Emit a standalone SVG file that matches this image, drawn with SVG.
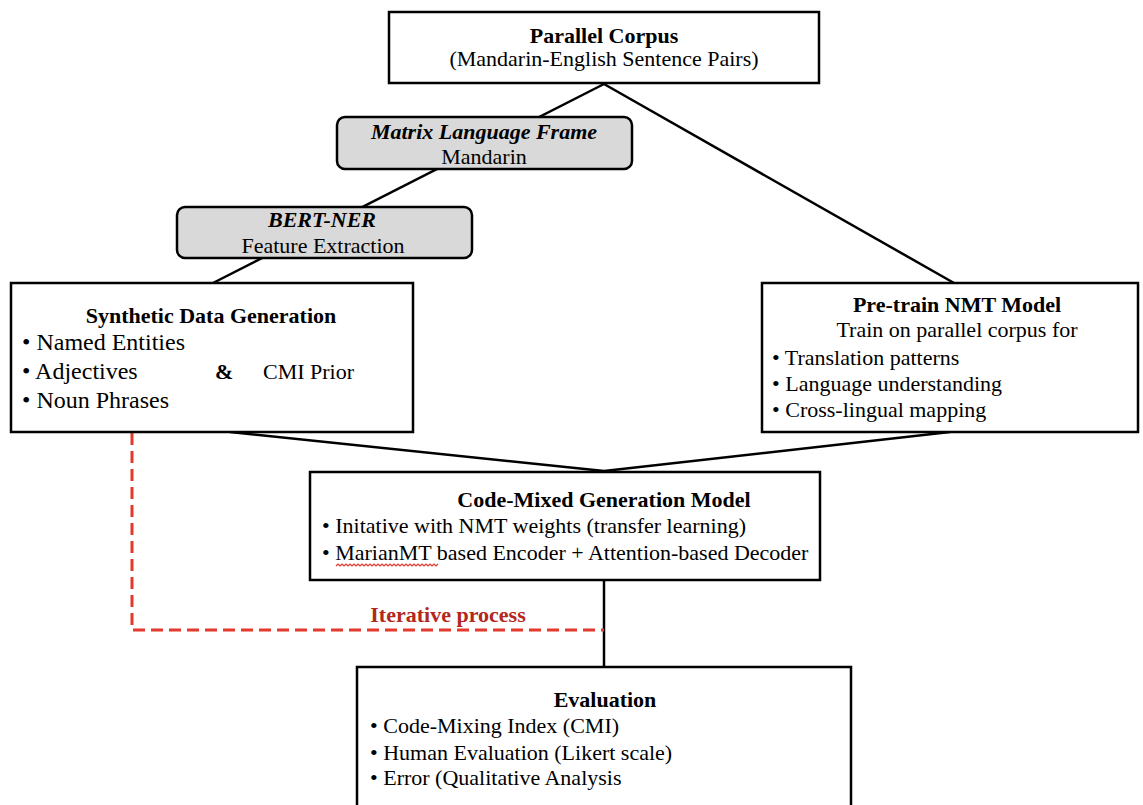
<svg xmlns="http://www.w3.org/2000/svg" width="1143" height="805" viewBox="0 0 1143 805">
  <style>
    .box { fill: #ffffff; stroke: #000000; stroke-width: 2.5; }
    .tag { fill: #d9d9d9; stroke: #000000; stroke-width: 2.5; }
    .link { stroke: #000000; stroke-width: 2.5; fill: none; }
    .loop { stroke: #e5392b; stroke-width: 3; fill: none; stroke-dasharray: 12 6; }
    text { font-family: "Liberation Serif", "Times New Roman", serif; font-size: 22px; fill: #000000; }
    .title { font-weight: bold; text-anchor: middle; }
    .mid { text-anchor: middle; }
    .bi { font-weight: bold; font-style: italic; text-anchor: middle; }
    .red { fill: #b3271c; font-weight: bold; text-anchor: middle; }
    .big { font-size: 24px; }
  </style>

  <!-- connectors -->
  <g id="connectors">
    <line class="link" x1="604" y1="84" x2="213" y2="283"/>
    <line class="link" x1="604" y1="84" x2="954" y2="283"/>
    <line class="link" x1="230" y1="432" x2="604" y2="471"/>
    <line class="link" x1="950" y1="432" x2="604" y2="471"/>
    <line class="link" x1="604" y1="580" x2="604" y2="667"/>
    <polyline class="loop" points="132,433 132,630 604,630"/>
  </g>

  <g id="parallel-corpus">
    <rect class="box" x="389" y="12" width="430" height="71"/>
    <text class="title" x="604" y="43">Parallel Corpus</text>
    <text class="mid" x="604" y="66">(Mandarin-English Sentence Pairs)</text>
  </g>

  <g id="matrix-language-frame">
    <rect class="tag" x="337" y="117" width="295" height="52" rx="8"/>
    <text class="bi" x="484" y="139">Matrix Language Frame</text>
    <text class="mid" x="484" y="164">Mandarin</text>
  </g>

  <g id="bert-ner">
    <rect class="tag" x="177" y="207" width="295" height="51" rx="8"/>
    <text class="bi" x="322" y="227">BERT-NER</text>
    <text class="mid" x="323" y="253">Feature Extraction</text>
  </g>

  <g id="synthetic-data">
    <rect class="box" x="11" y="283" width="402" height="149"/>
    <text class="title" x="211" y="323">Synthetic Data Generation</text>
    <text class="big" x="22" y="350">• Named Entities</text>
    <text class="big" x="22" y="379">• Adjectives</text>
    <text x="215" y="379" font-weight="bold">&amp;</text>
    <text x="263" y="379">CMI Prior</text>
    <text class="big" x="22" y="408">• Noun Phrases</text>
  </g>

  <g id="pretrain-nmt">
    <rect class="box" x="762" y="283" width="376" height="149"/>
    <text class="title" x="957" y="312">Pre-train NMT Model</text>
    <text class="mid" x="957" y="337">Train on parallel corpus for</text>
    <text x="772" y="365">• Translation patterns</text>
    <text x="772" y="391">• Language understanding</text>
    <text x="772" y="417">• Cross-lingual mapping</text>
  </g>

  <g id="code-mixed-model">
    <rect class="box" x="310" y="472" width="510" height="108"/>
    <text class="title" x="604" y="507">Code-Mixed Generation Model</text>
    <text x="322" y="533">• Initative with NMT weights (transfer learning)</text>
    <text x="322" y="560">• MarianMT based Encoder + Attention-based Decoder</text>
    <!-- spell-check squiggle under MarianMT -->
    <path d="M336,566 l2,-2 l2,2 l2,-2 l2,2 l2,-2 l2,2 l2,-2 l2,2 l2,-2 l2,2 l2,-2 l2,2 l2,-2 l2,2 l2,-2 l2,2 l2,-2 l2,2 l2,-2 l2,2 l2,-2 l2,2 l2,-2 l2,2 l2,-2 l2,2 l2,-2 l2,2 l2,-2 l2,2 l2,-2 l2,2 l2,-2 l2,2 l2,-2 l2,2 l2,-2 l2,2 l2,-2 l2,2 l2,-2 l2,2 l2,-2 l2,2 l2,-2 l2,2 l2,-2 l2,2 l2,-2 l2,2 l2,-2" fill="none" stroke="#e0392c" stroke-width="1.2"/>
  </g>

  <g id="iterative-label">
    <text class="red" x="448" y="622">Iterative process</text>
  </g>

  <g id="evaluation">
    <rect class="box" x="357" y="667" width="494" height="150"/>
    <text class="title" x="605" y="707">Evaluation</text>
    <text x="370" y="733">• Code-Mixing Index (CMI)</text>
    <text x="370" y="760">• Human Evaluation (Likert scale)</text>
    <text x="370" y="785">• Error (Qualitative Analysis</text>
  </g>
</svg>
